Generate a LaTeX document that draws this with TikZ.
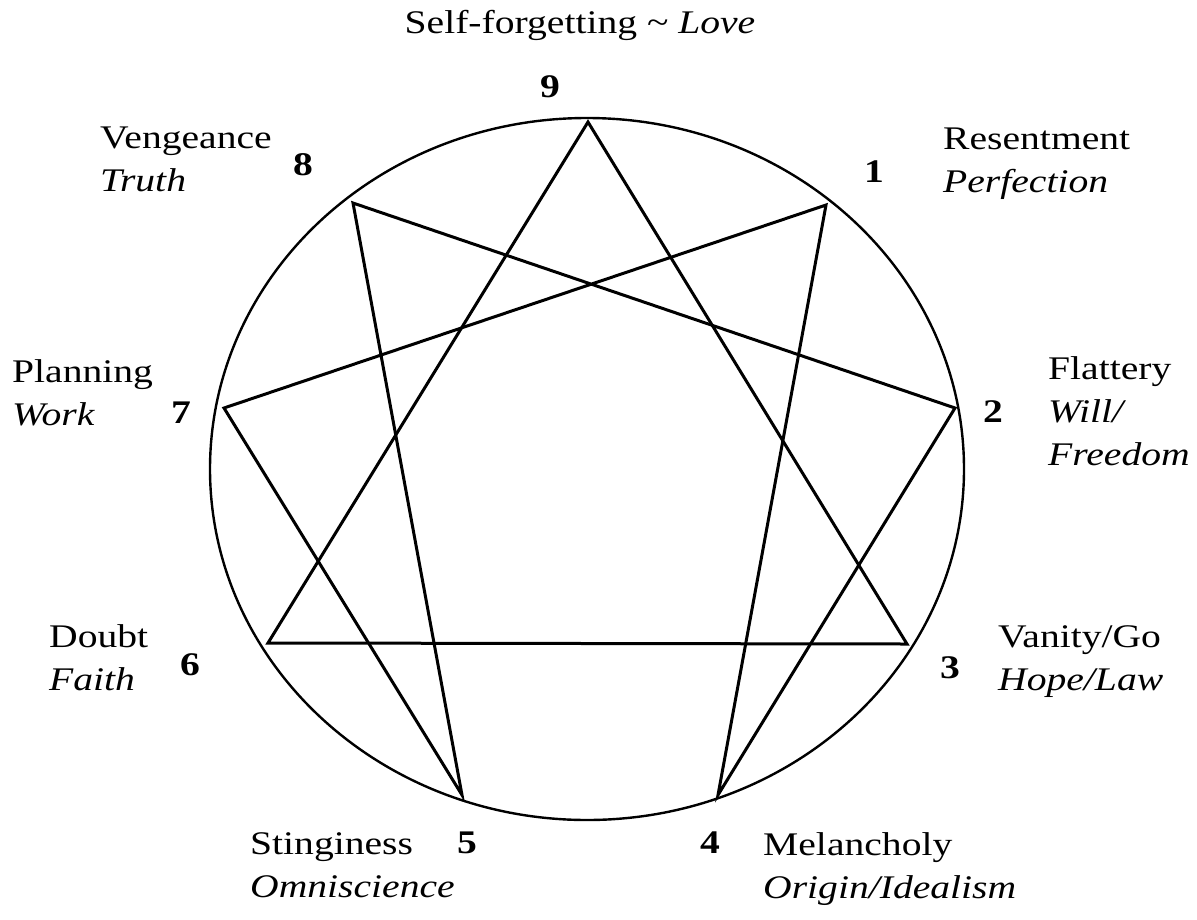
\documentclass[tikz,border=0pt]{standalone}
\usepackage{fontspec}
\setmainfont{Liberation Serif}[FakeStretch=1.2]

\begin{document}
\begin{tikzpicture}[
  x=1pt, y=-1pt,
  ring/.style={line width=2.4pt},
  star/.style={line width=3pt},
  numeral/.style={inner sep=0pt, font=\fontsize{33}{40}\selectfont\bfseries},
  trait/.style={anchor=west, align=left, inner sep=0pt, font=\fontsize{33}{43}\selectfont}
]
\useasboundingbox (0,0) rectangle (1197,919);
\draw[ring] (587,469) ellipse [x radius=377pt, y radius=351pt];
\coordinate (p9) at (588,122);
\coordinate (p1) at (826,205);
\coordinate (p2) at (955,408);
\coordinate (p3) at (907,644);
\coordinate (p4) at (718,795);
\coordinate (p5) at (462,795);
\coordinate (p6) at (268,643);
\coordinate (p7) at (224,408);
\coordinate (p8) at (353,203);
\draw[star] (p9) -- (p3) -- (p6) -- cycle;
\draw[star] (p1) -- (p4) -- (p2) -- (p8) -- (p5) -- (p7) -- cycle;
\node[numeral] (n9) at (550,87) {9};
\node[numeral] (n1) at (874,172) {1};
\node[numeral] (n2) at (993,412) {2};
\node[numeral] (n3) at (950,668) {3};
\node[numeral] (n4) at (710,843) {4};
\node[numeral] (n5) at (467,843) {5};
\node[numeral] (n6) at (190,665) {6};
\node[numeral] (n7) at (181,413) {7};
\node[numeral] (n8) at (303,165) {8};
\node[trait, anchor=center] (t9) at (580,25) {Self-forgetting \textasciitilde{} \textit{Love}};
\node[trait] (t1) at (943,164) {Resentment\\\textit{Perfection}};
\node[trait] (t2) at (1048,411) {Flattery\\\textit{Will/}\\\textit{Freedom}};
\node[trait] (t3) at (998,662) {Vanity/Go\\\textit{Hope/Law}};
\node[trait] (t4) at (763,869) {Melancholy\\\textit{Origin/Idealism}};
\node[trait] (t5) at (250,865) {Stinginess\\\textit{Omniscience}};
\node[trait] (t6) at (49,658) {Doubt\\\textit{Faith}};
\node[trait] (t7) at (12,393) {Planning\\\textit{Work}};
\node[trait] (t8) at (100,159) {Vengeance\\\textit{Truth}};
\end{tikzpicture}
\end{document}
